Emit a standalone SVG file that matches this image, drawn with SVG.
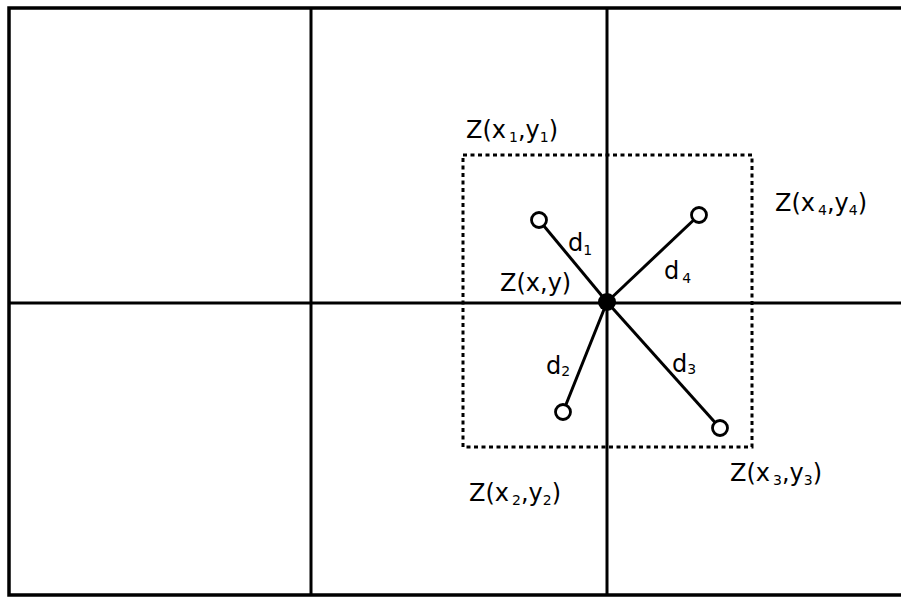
<svg xmlns="http://www.w3.org/2000/svg" width="901" height="598" viewBox="0 0 901 598">
<style>
.grid{stroke:#000;stroke-width:3;fill:none}
.frame{stroke:#000;stroke-width:3.5;fill:none}
.box{stroke:#000;stroke-width:3;fill:none;stroke-dasharray:4 3.5}
.edge{stroke:#000;stroke-width:3}
.pt{fill:#fff;stroke:#000;stroke-width:2.8}
text{font-family:"DejaVu Sans","Liberation Sans",sans-serif;font-size:24px;fill:#000}
.s{font-size:14px}
</style>
<rect width="901" height="598" fill="#fff"/>
<g id="frame">
<polyline class="frame" points="901,8 9,8 9,595 901,595"/>
<line class="grid" x1="311" y1="8" x2="311" y2="595"/>
<line class="grid" x1="607" y1="8" x2="607" y2="595"/>
<line class="grid" x1="9" y1="303" x2="901" y2="303"/>
</g>
<g id="window"><rect class="box" x="463" y="155" width="289" height="292"/></g>
<g id="connectors">
<line class="edge" x1="607" y1="302" x2="539" y2="220"/>
<line class="edge" x1="607" y1="302" x2="699" y2="215"/>
<line class="edge" x1="607" y1="302" x2="563" y2="412"/>
<line class="edge" x1="607" y1="302" x2="720" y2="428"/>
</g>
<g id="center"><circle cx="607" cy="302" r="9" fill="#000"/></g>
<g id="p1"><circle class="pt" cx="539" cy="220" r="7.5"/></g>
<g id="p4"><circle class="pt" cx="699" cy="215" r="7.5"/></g>
<g id="p2"><circle class="pt" cx="563" cy="412" r="7.5"/></g>
<g id="p3"><circle class="pt" cx="720" cy="428" r="7.5"/></g>
<g id="labels">
<text x="466" y="138">Z(x<tspan class="s" dx="3" dy="4">1</tspan><tspan dy="-4">,y</tspan><tspan class="s" dy="4">1</tspan><tspan dy="-4">)</tspan></text>
<text x="775" y="211">Z(x<tspan class="s" dx="3" dy="4">4</tspan><tspan dy="-4">,y</tspan><tspan class="s" dy="4">4</tspan><tspan dy="-4">)</tspan></text>
<text x="500" y="291">Z(x,y)</text>
<text x="469" y="501">Z(x<tspan class="s" dx="3" dy="4">2</tspan><tspan dy="-4">,y</tspan><tspan class="s" dy="4">2</tspan><tspan dy="-4">)</tspan></text>
<text x="730" y="481">Z(x<tspan class="s" dx="3" dy="4">3</tspan><tspan dy="-4">,y</tspan><tspan class="s" dy="4">3</tspan><tspan dy="-4">)</tspan></text>
<text x="568" y="251">d<tspan class="s" dy="4">1</tspan></text>
<text x="664" y="279">d<tspan class="s" dx="3" dy="4">4</tspan></text>
<text x="546" y="374">d<tspan class="s" dy="2">2</tspan></text>
<text x="672" y="372">d<tspan class="s" dy="2">3</tspan></text>
</g>
</svg>
